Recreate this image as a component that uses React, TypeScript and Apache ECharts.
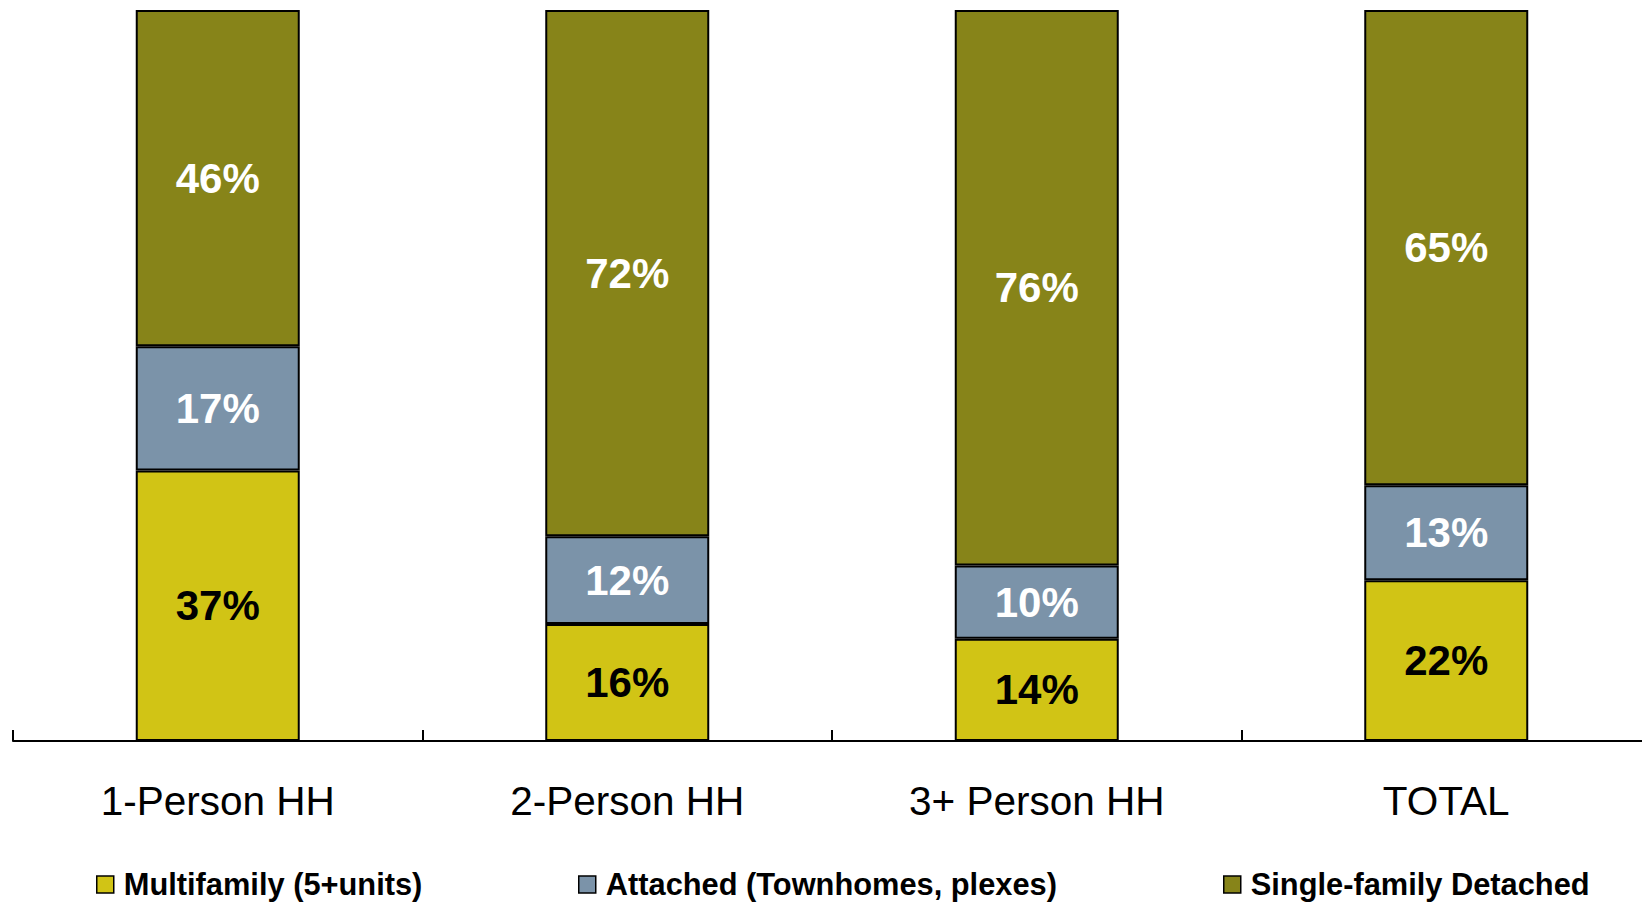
import React, { useEffect, useRef } from "react";
import * as echarts from "echarts";

const categories = ["1-Person HH", "2-Person HH", "3+ Person HH", "TOTAL"];
const multifamily = [37, 16, 14, 22];
const attached = [17, 12, 10, 13];
const singleFamily = [46, 72, 76, 65];
const seriesNames = ["Multifamily (5+units)", "Attached (Townhomes, plexes)", "Single-family Detached"];
const colors = ["#D1C415", "#7B93A9", "#878419"];
const labelColors = ["#000000", "#FFFFFF", "#FFFFFF"];

export default function App() {
  const ref = useRef<HTMLDivElement>(null);
  useEffect(() => {
    if (!ref.current) return;
    const chart = echarts.init(ref.current, undefined, { renderer: "svg" });
    const datasets = [multifamily, attached, singleFamily];
    const legendLefts = [96, 578, 1223];
    chart.setOption({
      animation: false,
      textStyle: { fontFamily: "Liberation Sans, Arial, sans-serif" },
      grid: { left: 13, top: 10, width: 1638, bottom: 161, outerBoundsMode: "none", containLabel: false },
      legend: seriesNames.map((n, i) => ({
        data: [n],
        left: legendLefts[i],
        top: 869,
        padding: 0,
        icon: "rect",
        itemWidth: 17,
        itemHeight: 17,
        itemGap: 10,
        itemStyle: { borderColor: "#000", borderWidth: 1.5 },
        textStyle: {
          fontSize: 30.8,
          lineHeight: 30,
          fontWeight: "bold",
          color: "#000",
          fontFamily: "Liberation Sans, Arial, sans-serif",
          padding: [0, 0, 0, 5],
        },
      })),
      xAxis: {
        type: "category",
        data: categories,
        axisLine: { show: true, lineStyle: { color: "#000", width: 2 } },
        axisTick: { show: true, inside: true, length: 11, lineStyle: { color: "#000", width: 2 } },
        splitLine: { show: false },
        axisLabel: {
          color: "#000",
          fontSize: 40.5,
          margin: 39,
          fontFamily: "Liberation Sans, Arial, sans-serif",
        },
      },
      yAxis: { type: "value", min: 0, max: 100, show: false, splitLine: { show: false } },
      series: datasets.map((d, i) => ({
        name: seriesNames[i],
        type: "bar",
        stack: "total",
        barWidth: 164,
        data: d,
        itemStyle: { color: colors[i], borderColor: "#000", borderWidth: 2 },
        label: {
          show: true,
          position: "inside",
          formatter: "{c}%",
          fontSize: 42,
          fontWeight: "bold",
          color: labelColors[i],
          fontFamily: "Liberation Sans, Arial, sans-serif",
        },
      })),
    });
    return () => chart.dispose();
  }, []);
  return (
    <div
      ref={ref}
      style={{ position: "fixed", left: 0, top: 0, width: 1642, height: 902, background: "#fff" }}
    />
  );
}
